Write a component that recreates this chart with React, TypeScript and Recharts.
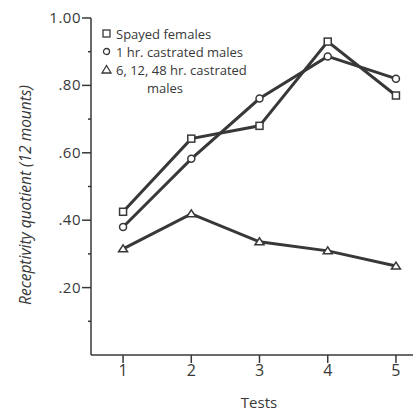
import { LineChart, Line, XAxis, YAxis } from 'recharts';

const tests = [1, 2, 3, 4, 5];
const spayedFemales = [0.425, 0.642, 0.68, 0.93, 0.77];
const castrated1hr = [0.38, 0.582, 0.761, 0.886, 0.82];
const castratedLater = [0.315, 0.419, 0.336, 0.309, 0.264];
const yTicks = [0.1, 0.2, 0.3, 0.4, 0.5, 0.6, 0.7, 0.8, 0.9, 1.0];
const yMajor = ['.20', '.40', '.60', '.80', '1.00'];
const legendRows = ['Spayed females', '1 hr. castrated males', '6, 12, 48 hr. castrated'];

const data = tests.map((t, i) => ({
  test: t,
  spayed: spayedFemales[i],
  c1: castrated1hr[i],
  cLater: castratedLater[i],
}));

const ink = '#383838';
const font = '"Open Sans", sans-serif';

const Square = (props: any) => {
  const { cx, cy } = props;
  if (cx == null || cy == null) return null;
  return <rect x={cx - 3.5} y={cy - 3.5} width={7} height={7} fill="#fff" stroke={ink} strokeWidth={1.5} />;
};

const Circle = (props: any) => {
  const { cx, cy } = props;
  if (cx == null || cy == null) return null;
  return <circle cx={cx} cy={cy} r={3.5} fill="#fff" stroke={ink} strokeWidth={1.5} />;
};

const Triangle = (props: any) => {
  const { cx, cy } = props;
  if (cx == null || cy == null) return null;
  return (
    <polygon
      points={`${cx},${cy - 4} ${cx - 4.5},${cy + 3} ${cx + 4.5},${cy + 3}`}
      fill="#fff"
      stroke={ink}
      strokeWidth={1.5}
    />
  );
};

const YTick = (props: any) => {
  const { x, y, payload } = props;
  const v = Math.round(payload.value * 100) / 100;
  const major = Math.round(v * 10) % 2 === 0;
  if (!major) {
    return <line x1={x + 6} x2={x + 9} y1={y} y2={y} stroke={ink} strokeWidth={1.5} />;
  }
  const label = yMajor[Math.round(v * 5) - 1];
  return (
    <g>
      <line x1={x} x2={x + 9} y1={y} y2={y} stroke={ink} strokeWidth={1.5} />
      <text x={x - 1} y={y + 5} textAnchor="end" fontSize={15} fontFamily={font} fill={ink} letterSpacing={0.5}>
        {label}
      </text>
    </g>
  );
};

// y title placed by hand so it matches the original's offset
const YTitle = () => (
  <text
    x={25}
    y={195}
    transform="rotate(-90, 25, 195)"
    textAnchor="middle"
    dominantBaseline="central"
    fontSize={15.5}
    fontStyle="italic"
    fontFamily={font}
    fill={ink}
  >
    Receptivity quotient (12 mounts)
  </text>
);

const icons = [
  <rect x={2} y={2} width={7} height={7} fill="#fff" stroke={ink} strokeWidth={1.3} />,
  <circle cx={5.5} cy={5.5} r={3} fill="#fff" stroke={ink} strokeWidth={1.3} />,
  <polygon points="5.5,1.5 1,9 10,9" fill="#fff" stroke={ink} strokeWidth={1.3} />,
];

// legend sits inside the plot, top-left
const LegendBox = () => (
  <div
    style={{
      position: 'absolute',
      top: 25,
      left: 101,
      fontFamily: font,
      fontSize: 13,
      color: ink,
      lineHeight: '18px',
    }}
  >
    {legendRows.map((text, i) => (
      <div key={text} style={{ display: 'flex', alignItems: 'center' }}>
        <svg width={12} height={12} style={{ marginRight: 3 }}>
          {icons[i]}
        </svg>
        <span>{text}</span>
      </div>
    ))}
    <div style={{ paddingLeft: 46 }}>males</div>
  </div>
);

export default function App() {
  return (
    <div style={{ position: 'absolute', left: 0, top: 0, width: 419, height: 414, background: '#fff' }}>
      <LineChart width={419} height={414} data={data} margin={{ top: 18, right: 6, left: 0, bottom: 0 }}>
        <XAxis
          dataKey="test"
          type="number"
          domain={[0.53, 5.25]}
          ticks={tests}
          allowDataOverflow
          axisLine={{ stroke: ink, strokeWidth: 1.5 }}
          tickLine={{ stroke: ink, strokeWidth: 1.5 }}
          tickSize={8}
          tick={{ fill: ink, fontSize: 16, fontFamily: font }}
          height={59}
          label={{ value: 'Tests', position: 'insideBottom', offset: 6, dx: 7, fill: ink, fontSize: 15, fontFamily: font }}
        />
        <YAxis
          type="number"
          domain={[0, 1]}
          ticks={yTicks}
          width={91}
          axisLine={{ stroke: ink, strokeWidth: 1.5 }}
          tickLine={false}
          tickSize={9}
          tickMargin={0}
          tick={<YTick />}
          label={<YTitle />}
        />
        <Line dataKey="spayed" stroke={ink} strokeWidth={3} dot={<Square />} isAnimationActive={false} />
        <Line dataKey="c1" stroke={ink} strokeWidth={3} dot={<Circle />} isAnimationActive={false} />
        <Line dataKey="cLater" stroke={ink} strokeWidth={3} dot={<Triangle />} isAnimationActive={false} />
      </LineChart>
      <LegendBox />
    </div>
  );
}
